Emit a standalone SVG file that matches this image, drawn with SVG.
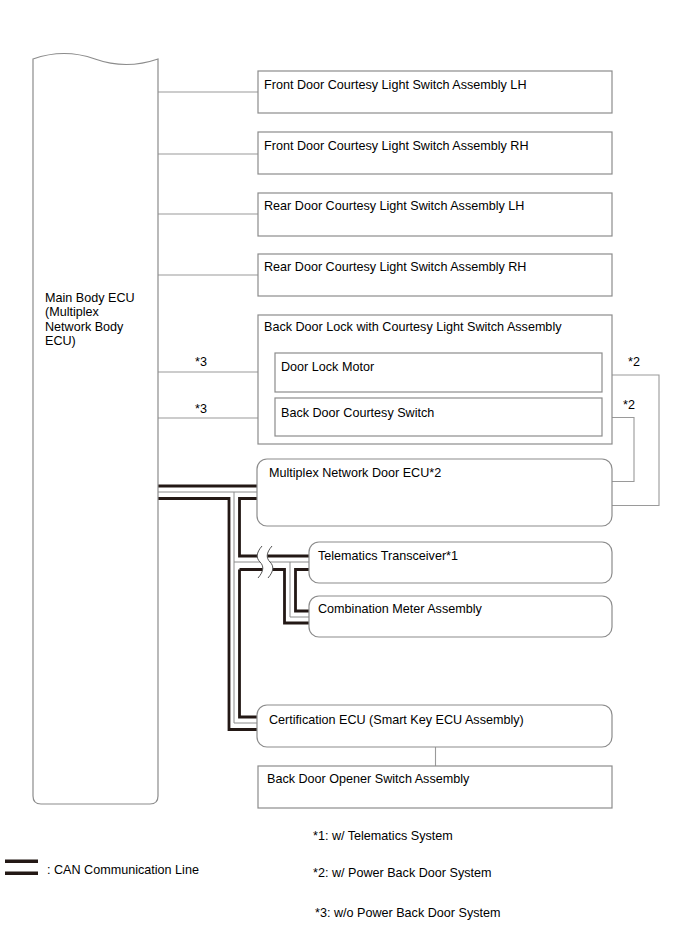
<svg xmlns="http://www.w3.org/2000/svg" width="688" height="949" viewBox="0 0 688 949">
<style>
.box{fill:#fff;stroke:#8c8c8c;stroke-width:1.2}
.ln{fill:none;stroke:#9a9a9a;stroke-width:1.1}
.can{fill:none;stroke:#231815;stroke-width:2.8;stroke-linejoin:miter}
.cg{fill:none;stroke:#8c8c8c;stroke-width:1}
.wv{fill:none;stroke:#555;stroke-width:1}
text{font-family:"Liberation Sans",Arial,sans-serif;font-size:12.6px;fill:#000}
</style>
<rect width="688" height="949" fill="#fff"/>

<g id="connectors">
<path class="ln" d="M158,92 H258 M158,154 H258 M158,214 H258 M158,275 H258 M158,372 H275 M158,418 H275"/>
<path class="ln" d="M602,375 H659 V505.5 H612 M602,417.5 H634 V481.5 H612"/>
<path class="ln" d="M435.5,747 V766"/>
<!-- CAN bus -->
<path class="cg" d="M158,492 H257 M234,492 V723 H257 M234,562 H309 M290,562 V617 H309"/>
<path class="can" d="M158,486 H257"/>
<path class="can" d="M158,498.5 H229 V729.5 H257"/>
<path class="can" d="M257,498.5 H239.5 V556 H309"/>
<path class="can" d="M239.5,569.5 V717 H257"/>
<path class="can" d="M239.5,569.5 H284.5 V623 H309"/>
<path class="can" d="M309,569.5 H295.5 V611 H309"/>
<!-- break -->
<path fill="#fff" stroke="none" d="M262,546 C256,553 256,558 260,562 C264,566 264,571 258,578 L268,578 C274,571 274,566 270,562 C266,558 266,553 272,546 Z"/>
<path class="wv" d="M262,546 C256,553 256,558 260,562 C264,566 264,571 258,578"/>
<path class="wv" d="M272,546 C266,553 266,558 270,562 C274,566 274,571 268,578"/>
</g>

<g id="main-ecu">
<path class="box" d="M33,59 Q64,48 95,59 T158,59 L158,796 Q158,804 150,804 L41,804 Q33,804 33,796 Z"/>
<text x="45" y="302">Main Body ECU</text>
<text x="45" y="316">(Multiplex</text>
<text x="45" y="330.5">Network Body</text>
<text x="45" y="345">ECU)</text>
</g>

<g id="front-lh"><rect class="box" x="258" y="71" width="354" height="42"/><text x="264" y="89">Front Door Courtesy Light Switch Assembly LH</text></g>
<g id="front-rh"><rect class="box" x="258" y="132" width="354" height="42"/><text x="264" y="150">Front Door Courtesy Light Switch Assembly RH</text></g>
<g id="rear-lh"><rect class="box" x="258" y="193" width="354" height="43"/><text x="264" y="210">Rear Door Courtesy Light Switch Assembly LH</text></g>
<g id="rear-rh"><rect class="box" x="258" y="254" width="354" height="42"/><text x="264" y="271">Rear Door Courtesy Light Switch Assembly RH</text></g>

<g id="back-door-lock">
<rect class="box" x="258" y="315" width="354" height="129"/>
<text x="264" y="331">Back Door Lock with Courtesy Light Switch Assembly</text>
</g>
<g id="door-lock-motor"><rect class="box" x="275" y="353" width="327" height="39"/><text x="281" y="371">Door Lock Motor</text></g>
<g id="courtesy-switch"><rect class="box" x="275" y="398" width="327" height="38"/><text x="281" y="417">Back Door Courtesy Switch</text></g>

<g id="labels">
<text x="195" y="366">*3</text>
<text x="195" y="413">*3</text>
<text x="628" y="366">*2</text>
<text x="623" y="409">*2</text>
</g>

<g id="multiplex-door-ecu"><rect class="box" x="257" y="459" width="355" height="67" rx="10"/><text x="269" y="477">Multiplex Network Door ECU*2</text></g>
<g id="telematics"><rect class="box" x="309" y="542" width="303" height="41" rx="10"/><text x="318" y="560">Telematics Transceiver*1</text></g>
<g id="combination-meter"><rect class="box" x="309" y="596" width="303" height="41" rx="10"/><text x="318" y="613">Combination Meter Assembly</text></g>
<g id="certification-ecu"><rect class="box" x="257" y="705" width="355" height="42" rx="10"/><text x="269" y="724">Certification ECU (Smart Key ECU Assembly)</text></g>
<g id="back-door-opener"><rect class="box" x="258" y="766" width="354" height="42"/><text x="267" y="783">Back Door Opener Switch Assembly</text></g>

<g id="legend">
<rect x="5" y="859.5" width="33" height="3.5" fill="#231815"/>
<rect x="5" y="871.5" width="33" height="3.5" fill="#231815"/>
<text x="47" y="874">: CAN Communication Line</text>
<text x="313" y="840">*1: w/ Telematics System</text>
<text x="313" y="877">*2: w/ Power Back Door System</text>
<text x="315" y="917">*3: w/o Power Back Door System</text>
</g>
</svg>
